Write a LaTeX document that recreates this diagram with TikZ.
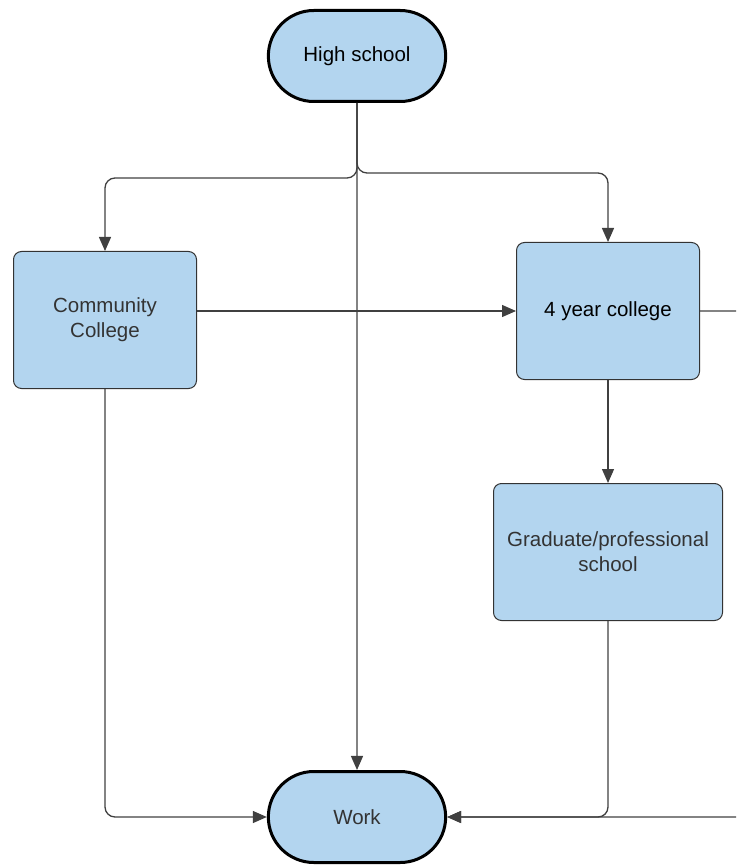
\documentclass[tikz,border=0pt]{standalone}
\usepackage{fontspec}
\setmainfont{Liberation Sans}
\usetikzlibrary{arrows.meta, positioning, shapes.misc}
\definecolor{boxblue}{RGB}{179,213,239}
\definecolor{linegray}{RGB}{64,64,64}
\definecolor{textgray}{RGB}{51,51,51}
\tikzset{%
	stage/.style={
		rectangle,
		rounded corners=8pt,
		draw=textgray,
		line width=1pt,
		fill=boxblue,
		minimum width=183pt,
		minimum height=137pt,
		text=textgray,
		align=center,
		font=\fontsize{20.5}{25}\selectfont
	},
	endpoint/.style={
		rounded rectangle,
		draw=black,
		line width=3pt,
		fill=boxblue,
		minimum width=184pt,
		minimum height=91pt,
		font=\fontsize{20.5}{25}\selectfont
	},
	conn/.style={
		draw=linegray,
		line width=1.3pt,
		rounded corners=10pt,
		-{Triangle[length=14pt,width=12pt]}
	},
}

\begin{document}
\begin{tikzpicture}[x=1pt, y=-1pt]
			\useasboundingbox (0,0) rectangle (736,866);
			\clip (0,0) rectangle (736,866);
			
			% Start and end
			\node[endpoint] (hs) at (357,56) {High school};
			\node[endpoint, text=textgray] (work) at (357,817) {Work};
			
			% The three schools
			\node[stage] (cc) at (105,320) {Community\\College};
			\node[stage, text=black] (fy) at (608,311) {4 year college};
			\node[stage, minimum width=229pt] (gs) at (608,552) {Graduate/professional\\school};
			
			% Split below high school
			\coordinate (splitL) at (105,178);
			\coordinate (splitR) at (608,173);
			\draw[conn] (hs.south) |- (splitL) -- (cc.north);
			\draw[conn] (hs.south) |- (splitR) -- (fy.north);
			\draw[conn] (hs) -- (work);
			
			% Between the schools
			\draw[conn] (cc.east |- fy.west) -- (fy.west);
			\draw[conn] (fy) -- (gs);
			
			% Into work
			\draw[conn] (cc.south) |- (work.west);
			\draw[conn] (gs.south) |- (work.east);
			\coordinate (offR) at (770,311);
			\draw[conn] (fy.east) -- (offR) |- (work.east);
			
		\end{tikzpicture}
\end{document}
